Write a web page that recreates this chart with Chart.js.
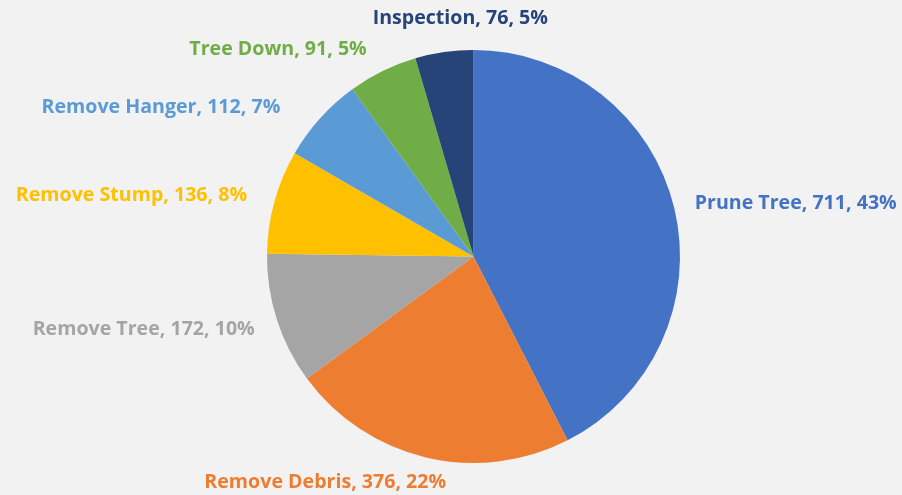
<!DOCTYPE html>
<html>
<head>
<meta charset="utf-8">
<script src="https://cdn.jsdelivr.net/npm/chart.js@4.4.1/dist/chart.umd.min.js"></script>
<style>
  html, body { margin: 0; padding: 0; background: #f2f2f2; }
  #wrap { width: 902px; height: 495px; position: relative; }
</style>
</head>
<body>
<div id="wrap"><canvas id="pieChart"></canvas></div>
<script>
const categories = ["Prune Tree", "Remove Debris", "Remove Tree", "Remove Stump", "Remove Hanger", "Tree Down", "Inspection"];
const counts = [711, 376, 172, 136, 112, 91, 76];
const percents = [43, 22, 10, 8, 7, 5, 5];
const colors = ["#4472c4", "#ed7d31", "#a5a5a5", "#ffc000", "#5b9bd5", "#70ad47", "#264478"];

// label placement tweaks relative to the arc's outer mid point
const labelAlign = ["left", "center", "right", "right", "right", "right", "center"];
const labelDx = [1, -96, -3, -8, -25, -7, 19];
const labelDy = [0, 6, 4, -1, 3, -4, -14];

const outsideLabels = {
  id: "outsideLabels",
  afterDatasetsDraw(chart) {
    const ctx = chart.ctx;
    const arcs = chart.getDatasetMeta(0).data;
    ctx.save();
    ctx.font = "bold 19.6px 'Open Sans', sans-serif";
    ctx.textBaseline = "middle";
    arcs.forEach((arc, i) => {
      const mid = (arc.startAngle + arc.endAngle) / 2;
      const r = arc.outerRadius + 20;
      const x = arc.x + Math.cos(mid) * r + labelDx[i];
      const y = arc.y + Math.sin(mid) * r + labelDy[i];
      ctx.fillStyle = colors[i];
      ctx.textAlign = labelAlign[i];
      ctx.fillText(categories[i] + ", " + counts[i] + ", " + percents[i] + "%", x, y);
    });
    ctx.restore();
  }
};

const context = document.getElementById("pieChart").getContext("2d");
new Chart(context, {
  type: "pie",
  data: {
    labels: categories,
    datasets: [{
      data: counts,
      backgroundColor: colors,
      borderWidth: 0
    }]
  },
  options: {
    responsive: true,
    maintainAspectRatio: false,
    animation: false,
    layout: { padding: { left: 267, right: 222, top: 50, bottom: 32 } },
    plugins: {
      legend: { display: false },
      tooltip: { enabled: false }
    }
  },
  plugins: [outsideLabels]
});
</script>
</body>
</html>
